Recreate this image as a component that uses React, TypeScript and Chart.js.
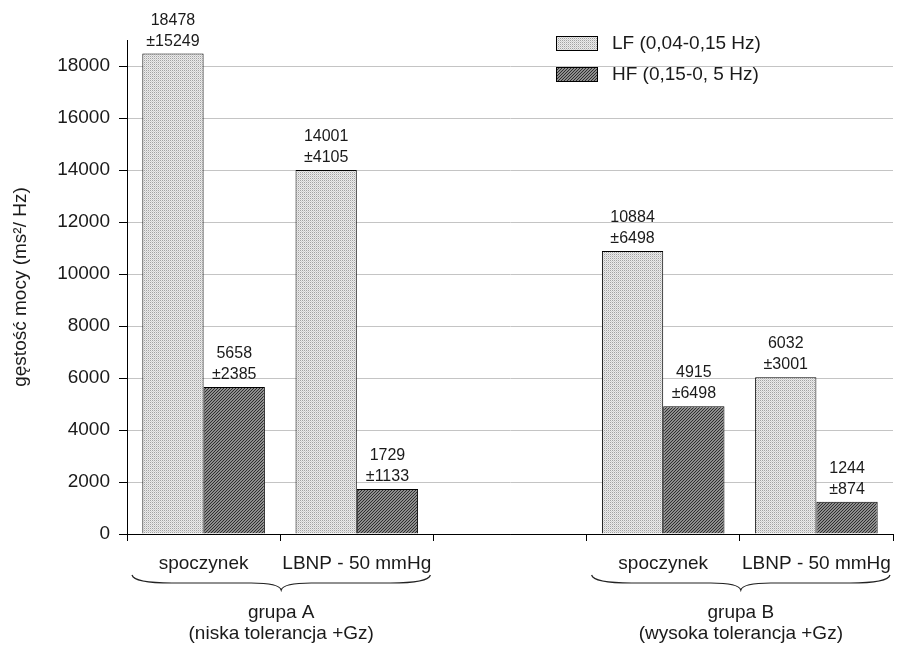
import React, { useEffect, useRef } from "react";
import { Chart, registerables } from "chart.js";

Chart.register(...registerables);

const categories = ["spoczynek", "LBNP - 50 mmHg", "", "spoczynek", "LBNP - 50 mmHg"];
const lfValues = [18478, 14001, null, 10884, 6032];
const lfSd = [15249, 4105, null, 6498, 3001];
const hfValues = [5658, 1729, null, 4915, 1244];
const hfSd = [2385, 1133, null, 6498, 874];
const seriesNames = ["LF (0,04-0,15 Hz)", "HF (0,15-0, 5 Hz)"];
const groupNames = ["grupa A", "grupa B"];
const groupSub = ["(niska tolerancja +Gz)", "(wysoka tolerancja +Gz)"];
const groupRanges = [[0, 1], [3, 4]];
const yTitle = "gęstość mocy (ms²/ Hz)";
const yTicks = [0, 2000, 4000, 6000, 8000, 10000, 12000, 14000, 16000, 18000];
const yMax = 19000;

const FONT = "'Liberation Sans', Arial, sans-serif";

function makeLfPattern(ctx: CanvasRenderingContext2D) {
  const c = document.createElement("canvas");
  c.width = 2; c.height = 2;
  const g = c.getContext("2d")!;
  g.fillStyle = "#ebebeb"; g.fillRect(0, 0, 2, 2);
  g.fillStyle = "#a2a2a2"; g.fillRect(0, 0, 1, 1);
  g.fillStyle = "#d0d0d0"; g.fillRect(1, 1, 1, 1);
  return ctx.createPattern(c, "repeat")!;
}

function makeHfPattern(ctx: CanvasRenderingContext2D) {
  const c = document.createElement("canvas");
  c.width = 3; c.height = 3;
  const g = c.getContext("2d")!;
  g.fillStyle = "#8e8e8e"; g.fillRect(0, 0, 3, 3);
  g.fillStyle = "#2e2e2e";
  g.fillRect(0, 2, 1, 1); g.fillRect(1, 1, 1, 1); g.fillRect(2, 0, 1, 1);
  return ctx.createPattern(c, "repeat")!;
}

export default function App() {
  const ref = useRef<HTMLCanvasElement | null>(null);
  useEffect(() => {
    const canvas = ref.current!;
    const ctx = canvas.getContext("2d")!;
    const lfPat = makeLfPattern(ctx);
    const hfPat = makeHfPattern(ctx);
    const sds = [lfSd, hfSd];

    const overlay = {
      id: "overlay",
      afterDatasetsDraw(chart: any) {
        const c = chart.ctx;
        c.save();
        c.fillStyle = "#1a1a1a";
        c.textAlign = "center";
        c.textBaseline = "alphabetic";
        c.font = `16px ${FONT}`;
        chart.data.datasets.forEach((ds: any, i: number) => {
          const meta = chart.getDatasetMeta(i);
          meta.data.forEach((el: any, j: number) => {
            const v = ds.data[j];
            if (v === null || v === undefined) return;
            c.fillText(String(v), el.x, el.y - 29);
            c.fillText("±" + sds[i][j], el.x, el.y - 8);
          });
        });
        c.restore();
      },
      afterDraw(chart: any) {
        const c = chart.ctx;
        const xs = chart.scales.x;
        const half = (xs.getPixelForValue(1) - xs.getPixelForValue(0)) / 2;
        c.save();
        groupRanges.forEach((r, gi) => {
          const xL = xs.getPixelForValue(r[0]) - half + 5;
          const xR = xs.getPixelForValue(r[1]) + half - 3;
          const xm = (xL + xR) / 2;
          const y0 = 575, y1 = 583, y2 = 590;
          c.strokeStyle = "#222";
          c.lineWidth = 1.2;
          c.beginPath();
          c.moveTo(xL, y0);
          c.quadraticCurveTo(xL + 2, y1, xL + 40, y1);
          c.lineTo(xm - 30, y1);
          c.quadraticCurveTo(xm - 2, y1, xm, y2);
          c.quadraticCurveTo(xm + 2, y1, xm + 30, y1);
          c.lineTo(xR - 40, y1);
          c.quadraticCurveTo(xR - 2, y1, xR, y0);
          c.stroke();
          c.fillStyle = "#1a1a1a";
          c.font = `19px ${FONT}`;
          c.textAlign = "center";
          c.textBaseline = "middle";
          c.fillText(groupNames[gi], xm, 613);
          c.fillText(groupSub[gi], xm, 634);
        });
        const pats = [lfPat, hfPat];
        seriesNames.forEach((name, i) => {
          const by = 36 + i * 31;
          c.fillStyle = pats[i];
          c.fillRect(556, by, 41, 14);
          c.strokeStyle = "#000";
          c.lineWidth = 1;
          c.strokeRect(556.5, by + 0.5, 41, 14);
          c.fillStyle = "#1a1a1a";
          c.font = `19px ${FONT}`;
          c.textAlign = "left";
          c.textBaseline = "middle";
          c.fillText(name, 612, by + 8);
        });
        c.restore();
      },
    };

    const chart = new Chart(canvas, {
      type: "bar",
      data: {
        labels: categories,
        datasets: [
          {
            label: seriesNames[0],
            data: lfValues,
            backgroundColor: lfPat,
            borderColor: "#000",
            borderWidth: 1,
            categoryPercentage: 0.8,
            barPercentage: 1.0,
          },
          {
            label: seriesNames[1],
            data: hfValues,
            backgroundColor: hfPat,
            borderColor: "#000",
            borderWidth: 1,
            categoryPercentage: 0.8,
            barPercentage: 1.0,
          },
        ],
      },
      options: {
        animation: false,
        responsive: true,
        maintainAspectRatio: false,
        layout: { padding: { top: 40, right: 11, left: 0, bottom: 0 } },
        plugins: { legend: { display: false }, tooltip: { enabled: false } },
        scales: {
          x: {
            offset: true,
            grid: {
              display: true,
              drawOnChartArea: false,
              drawTicks: true,
              tickLength: 7,
              color: "#000",
              offset: true,
            },
            border: { display: true, color: "#000", width: 1 },
            ticks: {
              color: "#1a1a1a",
              font: { family: FONT, size: 19 },
              padding: 11,
              maxRotation: 0,
              autoSkip: false,
            },
            afterFit: (s: any) => { s.height = 112; },
          },
          y: {
            min: 0,
            max: yMax,
            ticks: {
              color: "#1a1a1a",
              font: { family: FONT, size: 19 },
              padding: 9,
              autoSkip: false,
              callback: (v: any) => String(v),
            },
            afterBuildTicks: (s: any) => {
              s.ticks = yTicks.map((v) => ({ value: v }));
            },
            grid: {
              color: (c: any) => (c.tick && c.tick.value === 0 ? "#000" : "#c4c4c4"),
              tickColor: "#000",
              tickLength: 8,
            },
            border: { display: true, color: "#000", width: 1 },
            title: {
              display: true,
              text: yTitle,
              color: "#1a1a1a",
              font: { family: FONT, size: 19 },
              padding: { top: 9, bottom: 0 },
            },
            afterFit: (s: any) => { s.width = 127; },
          },
        },
      },
      plugins: [overlay],
    });
    return () => chart.destroy();
  }, []);

  return (
    <div style={{ position: "fixed", left: 0, top: 0, width: 904, height: 646, background: "#fff" }}>
      <canvas ref={ref} />
    </div>
  );
}
